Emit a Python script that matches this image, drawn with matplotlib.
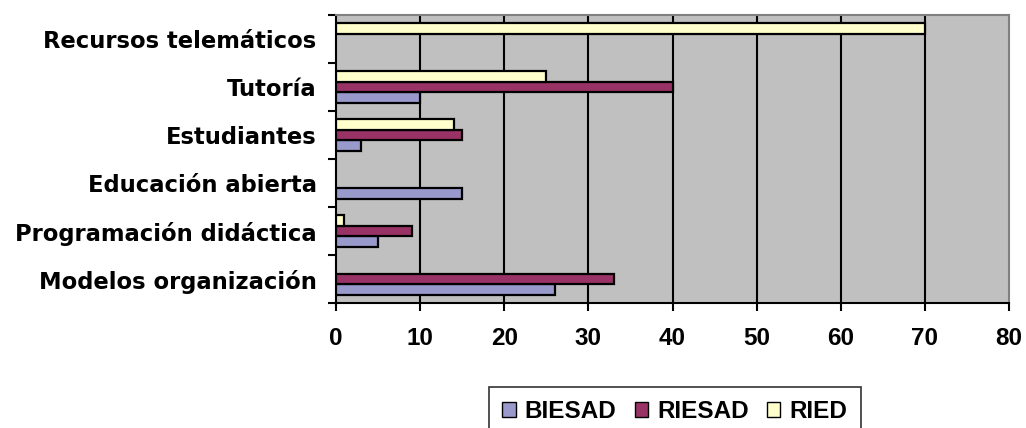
import numpy as np
import matplotlib
matplotlib.use("Agg")
import matplotlib.pyplot as plt
from matplotlib.patches import Patch

# categorías (de abajo hacia arriba) y valores por revista
categorias = ["Modelos organización", "Programación didáctica", "Educación abierta",
              "Estudiantes", "Tutoría", "Recursos telemáticos"]
biesad = [26, 5, 15, 3, 10, 0]
riesad = [33, 9, 0, 15, 40, 0]
ried = [0, 1, 0, 14, 25, 70]

series = ["BIESAD", "RIESAD", "RIED"]
colores = ["#9999CC", "#993366", "#FFFFCC"]

plt.rcParams["font.family"] = ["Liberation Sans", "DejaVu Sans"]
plt.rcParams["font.weight"] = "bold"

W, H = 1026, 428
fig = plt.figure(figsize=(W / 100, H / 100), dpi=100)
# área de trazado en píxeles: x 336..1009, y 15..303
ax = fig.add_axes([336 / W, (H - 303) / H, (1009 - 336) / W, (303 - 15) / H])
ax.set_facecolor("#C0C0C0")

y = np.arange(len(categorias))
alto = 0.222
for i, (nombre, vals, col) in enumerate(zip(series, [biesad, riesad, ried], colores)):
    pos = y + (i - 1) * alto
    vals = np.array(vals, dtype=float)
    mask = vals > 0
    ax.barh(pos[mask], vals[mask], height=alto, color=col, edgecolor="black",
            linewidth=1.6, zorder=3)

ax.set_xlim(0, 80)
ax.set_ylim(-0.5, len(categorias) - 0.5)

# rejilla vertical negra
for xv in range(10, 80, 10):
    ax.axvline(xv, color="black", linewidth=1.5, zorder=1)

ax.set_xticks(range(0, 81, 10))
ax.tick_params(axis="x", direction="out", length=6, width=1.5, pad=11, labelsize=17.5)

# marcas del eje y en los límites de cada categoría, etiquetas en el centro
ax.set_yticks(np.arange(-0.5, len(categorias), 1.0))
ax.set_yticklabels([])
ax.tick_params(axis="y", which="major", direction="out", length=6, width=1.5)
ax.set_yticks(y, minor=True)
ax.set_yticklabels(categorias, minor=True, fontsize=16.3, family="DejaVu Sans")
ax.tick_params(axis="y", which="minor", length=0, pad=14)

for lado in ["left", "bottom"]:
    ax.spines[lado].set_color("black")
    ax.spines[lado].set_linewidth(1.5)
for lado in ["top", "right"]:
    ax.spines[lado].set_color("#808080")
    ax.spines[lado].set_linewidth(1.5)

handles = [Patch(facecolor=c, edgecolor="black", linewidth=1.0, label=s)
           for s, c in zip(series, colores)]
leg = fig.legend(handles=handles, loc="upper left", bbox_to_anchor=(489 / W, 1 - 387 / H),
                 ncol=3, frameon=True, fancybox=False, edgecolor="black",
                 fontsize=17.5, handlelength=0.55, handleheight=0.55, handletextpad=0.37,
                 columnspacing=0.75, borderpad=0.55, borderaxespad=0)
leg.get_frame().set_linewidth(1.2)

fig.savefig("out.png", dpi=100, facecolor="white")
